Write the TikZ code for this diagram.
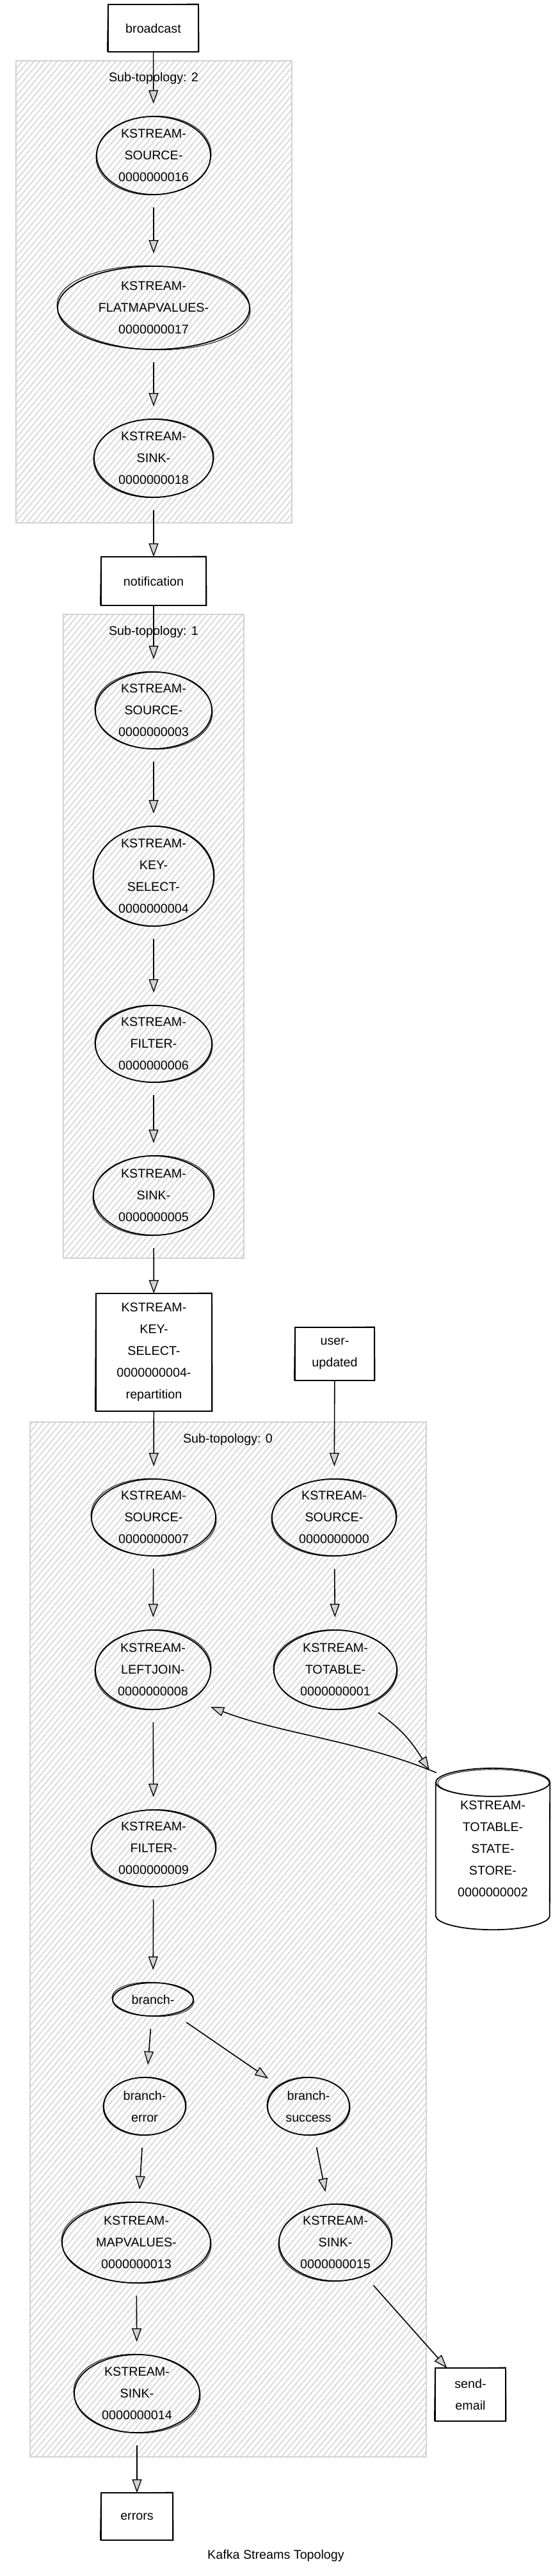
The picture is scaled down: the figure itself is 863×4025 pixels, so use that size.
\documentclass[tikz,border=0pt]{standalone}
\usepackage{fontspec}
\setmainfont{Liberation Sans}
\usetikzlibrary{arrows.meta,patterns.meta,calc,shapes.geometric}
\begin{document}
\begin{tikzpicture}[x=1pt,y=-1pt,
  every node/.style={font=\fontsize{19.7}{34}\selectfont, align=center},
  proc/.style={ellipse, draw, line width=1.8pt, inner xsep=0pt, inner ysep=-8pt, outer sep=20pt},
  topic/.style={rectangle, draw, line width=1.8pt, inner sep=0pt, outer sep=0pt},
  group/.style={draw=gray!35, line width=2.4pt, preaction={fill=white},
    pattern={Lines[angle=50,distance=7pt,line width=2pt]}, pattern color=gray!28},
  arr/.style={line width=1.6pt, -{Triangle[length=21pt,width=15pt,fill=gray!35,line width=1.3pt]}},
  sk/.style={line width=0.9pt},
  lbl/.style={inner sep=0pt}
]
\useasboundingbox (0,0) rectangle (863,4025);
\fill[white] (0,0) rectangle (863,4025);

% sub-topology containers
\draw[group] (25,95) rectangle (456,817);
\draw[group] (99,960) rectangle (381,1966);
\draw[group] (47,2222) rectangle (666,3839);
\node[lbl] (t2) at (240,122) {Sub-topology: 2};
\node[lbl] (t1) at (240,987) {Sub-topology: 1};
\node[lbl] (t0) at (356,2249) {Sub-topology: 0};

% sub-topology 2
\node[topic, minimum width=141pt, minimum height=74pt] (bc) at (239.5,44) {broadcast};
\node[proc, minimum width=178pt, minimum height=122pt] (s16) at (240,243) {KSTREAM-\\SOURCE-\\0000000016};
\node[proc, minimum width=300pt, minimum height=130pt] (f17) at (240,481) {KSTREAM-\\FLATMAPVALUES-\\0000000017};
\node[proc, minimum width=186pt, minimum height=122pt] (k18) at (240,716) {KSTREAM-\\SINK-\\0000000018};
\node[topic, minimum width=164pt, minimum height=76pt] (nt) at (240,908) {notification};

% sub-topology 1
\node[proc, minimum width=182pt, minimum height=120pt] (s3) at (240,1110) {KSTREAM-\\SOURCE-\\0000000003};
\node[proc, minimum width=188pt, minimum height=156pt] (ks4) at (240,1369) {KSTREAM-\\KEY-\\SELECT-\\0000000004};
\node[proc, minimum width=182pt, minimum height=120pt] (f6) at (240,1631) {KSTREAM-\\FILTER-\\0000000006};
\node[proc, minimum width=188pt, minimum height=124pt] (k5) at (240,1868) {KSTREAM-\\SINK-\\0000000005};
\node[topic, minimum width=181pt, minimum height=184pt] (rep) at (240.5,2113) {KSTREAM-\\KEY-\\SELECT-\\0000000004-\\repartition};
\node[topic, minimum width=124pt, minimum height=83pt] (uu) at (523,2115.5) {user-\\updated};

% sub-topology 0
\node[proc, minimum width=194pt, minimum height=120pt] (s7) at (240,2371) {KSTREAM-\\SOURCE-\\0000000007};
\node[proc, minimum width=194pt, minimum height=120pt] (s0) at (522,2371) {KSTREAM-\\SOURCE-\\0000000000};
\node[proc, minimum width=180pt, minimum height=124pt] (lj8) at (239,2609) {KSTREAM-\\LEFTJOIN-\\0000000008};
\node[proc, minimum width=192pt, minimum height=124pt] (tt1) at (524,2609) {KSTREAM-\\TOTABLE-\\0000000001};
\node[inner sep=0pt, minimum width=178pt, minimum height=252pt] (store) at (770,2889) {KSTREAM-\\TOTABLE-\\STATE-\\STORE-\\0000000002};
\draw[line width=1.8pt] ($(store.north west)+(0,22)$) -- ($(store.south west)+(0,-22)$)
  arc[start angle=180, end angle=0, x radius=89, y radius=22] -- ($(store.north east)+(0,22)$);
\draw[line width=1.8pt] ($(store.north)+(0,22)$) ellipse [x radius=89, y radius=22];
\draw[sk] ($(store.north)+(1,23)$) ellipse [x radius=87, y radius=21];
\node[proc, minimum width=194pt, minimum height=120pt] (f9) at (240,2888) {KSTREAM-\\FILTER-\\0000000009};
\node[proc, minimum width=126pt, minimum height=52pt] (br) at (239,3124) {branch-};
\node[proc, minimum width=128pt, minimum height=90pt] (be) at (226,3291) {branch-\\error};
\node[proc, minimum width=128pt, minimum height=90pt] (bs) at (482,3291) {branch-\\success};
\node[proc, minimum width=232pt, minimum height=126pt] (mv13) at (213,3504) {KSTREAM-\\MAPVALUES-\\0000000013};
\node[proc, minimum width=176pt, minimum height=120pt] (k15) at (524,3504) {KSTREAM-\\SINK-\\0000000015};
\node[proc, minimum width=196pt, minimum height=122pt] (k14) at (214,3740) {KSTREAM-\\SINK-\\0000000014};
\node[topic, minimum width=112pt, minimum height=74pt] (err) at (214,3932) {errors};
\node[topic, minimum width=110pt, minimum height=83pt] (se) at (735,3741.5) {send-\\email};
\node[lbl] (cap) at (431,3993) {Kafka Streams Topology};

% sketchy second strokes
\foreach \nd/\a in {s16/3,f17/-2,k18/2,s3/-3,ks4/2,f6/-2,k5/3,s7/-3,s0/2,lj8/3,tt1/-2,f9/2,br/-3,be/2,bs/-3,mv13/-2,k15/3,k14/-3}
  \draw[sk] let \p1=(\nd.east), \p2=(\nd.north), \p3=(\nd.center) in
    (\p3) ellipse [x radius={\x1-\x3-19pt}, y radius={\y2-\y3-19.5pt}, rotate=\a];
\foreach \nd in {bc,nt,rep,uu,err,se}
  \draw[sk] let \p1=(\nd.south west), \p2=(\nd.north east) in
    ({\x1-1.5pt},{\y1+0.5pt}) -- ({\x2+1pt},{\y1-0.5pt}) -- ({\x2+0.5pt},{\y2+1pt})
    -- ({\x1-0.5pt},{\y2-0.5pt}) -- cycle;

% connectors
\draw[arr] (bc) -- (s16);
\draw[arr] (s16) -- (f17);
\draw[arr] (f17) -- (k18);
\draw[arr] (k18) -- (nt);
\draw[arr] (nt) -- (s3);
\draw[arr] (s3) -- (ks4);
\draw[arr] (ks4) -- (f6);
\draw[arr] (f6) -- (k5);
\draw[arr] (k5) -- (rep);
\draw[arr] (rep) -- (s7);
\draw[arr] (uu) -- (s0);
\draw[arr] (s7) -- (lj8);
\draw[arr] (s0) -- (tt1);
\draw[arr] (tt1.-45) .. controls +(40,28) and +(-25,-40) .. ([xshift=-10pt,yshift=-3pt]store.north west);
\draw[arr] ([xshift=1pt,yshift=-7pt]store.north west) .. controls +(-120,-50) and +(110,42) .. ($(lj8.center)+(90,58)$);
\draw[arr] (lj8) -- (f9);
\draw[arr] (f9) -- (br);
\draw[arr] (br) -- (be);
\draw[arr] (br) -- (bs);
\draw[arr] (be) -- (mv13);
\draw[arr] (bs) -- (k15);
\draw[arr] (mv13) -- (k14);
\draw[arr] (k14) -- (err);
\draw[arr] (k15) -- (se);
\end{tikzpicture}
\end{document}
